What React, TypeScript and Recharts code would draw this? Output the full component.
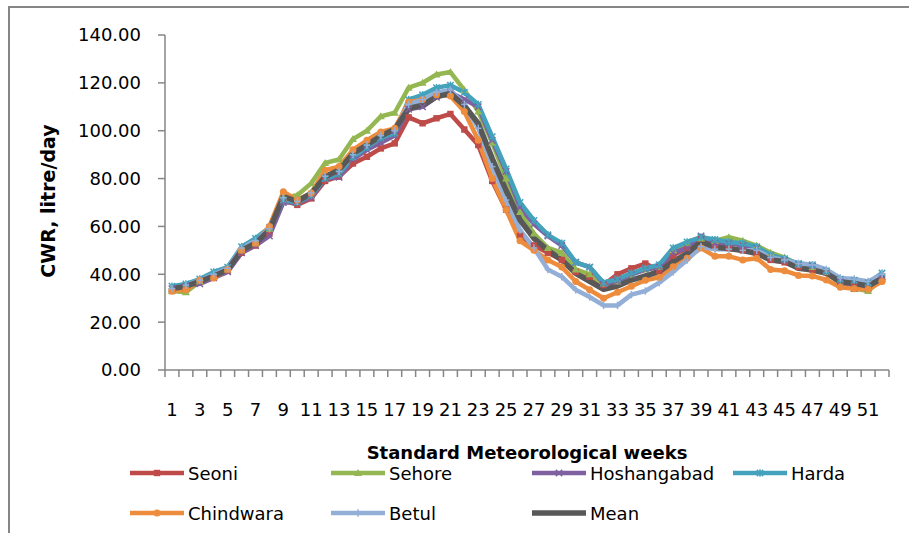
import React from 'react';
import { LineChart, Line, XAxis, YAxis } from 'recharts';

// Standard meteorological weeks
const weeks = [
  1, 2, 3, 4, 5, 6, 7, 8, 9, 10, 11, 12, 13, 14, 15, 16, 17, 18, 19, 20, 21, 22, 23, 24, 25, 26,
  27, 28, 29, 30, 31, 32, 33, 34, 35, 36, 37, 38, 39, 40, 41, 42, 43, 44, 45, 46, 47, 48, 49, 50, 51, 52,
];

// Crop water requirement, litre/day
const seoni = [
  33, 34, 37, 38.5, 41.5, 49, 52, 57, 71, 69, 71.7, 79, 80.8, 86.3, 89.1, 92.6, 94.7, 105.6, 103.1, 105.2, 107, 100.5, 94, 79, 67, 56,
  52, 49, 46, 41, 39, 35.5, 40, 42.5, 44.5, 41.5, 48, 51, 55, 52, 51, 50, 49, 46, 45, 43, 42, 41, 36, 35, 34.5, 38,
];
const sehore = [
  33, 32.5, 37, 39, 42, 50, 53, 59, 72, 73, 78, 86.5, 88, 96.5, 100, 106, 107.5, 118, 120, 123.5, 124.5, 117, 108, 95, 80, 66,
  57, 51, 49, 42, 40, 36, 37, 40, 42, 43, 50, 53, 55, 54, 55.5, 54, 52, 49, 47, 44, 43, 41, 36, 34, 33, 38,
];
const hoshangabad = [
  34, 35, 36, 38.5, 41, 49, 52, 56, 70, 70, 72, 80, 80.5, 88, 92, 95, 98, 109, 110, 114, 116, 113, 110, 96, 83, 68,
  61, 56, 52, 45, 43, 36, 37, 40, 42, 43, 49, 51, 56, 53, 53, 52, 51, 48, 46, 44, 43.5, 41, 37, 34, 34, 39,
];
const harda = [
  35, 36, 38, 41, 43, 51.5, 55, 59.5, 71, 70, 73, 80, 82, 89, 93, 97, 99, 113, 115, 118, 119, 116, 111, 97.5, 84, 70,
  62.5, 56.5, 53, 45, 43, 36.5, 38, 40.5, 42.5, 44, 51, 53.5, 55.5, 54.5, 53.5, 53, 51.5, 48, 46.5, 44.5, 44, 41.5, 38, 37.5, 36.5, 40.5,
];
const chindwara = [
  33, 33.5, 37.5, 38.5, 42, 50, 53, 60, 74.5, 71, 74, 83.5, 85, 92, 96, 99.5, 101, 112, 113, 115, 114.5, 108, 96, 80, 67, 54,
  50, 46, 43, 37, 33.5, 30, 32.5, 35, 37.5, 38.7, 43.2, 46.7, 51, 47.5, 47.5, 46, 46.7, 42, 41.5, 39.5, 39.3, 37.6, 34.6, 34, 33.7, 37,
];
const betul = [
  34, 35.5, 37.5, 40, 42.5, 51, 54, 59, 72, 70.5, 74, 81, 83, 90, 94, 98, 100, 111, 113, 116, 117, 111, 101, 85, 71, 58.5,
  51, 42, 39, 33.5, 30.5, 27, 27, 31.5, 33, 36.5, 41, 46, 51.5, 50.5, 50.5, 50, 50, 47, 46, 44.5, 44, 42, 38.5, 38, 37, 40,
];
const mean = [
  34, 35, 37, 39.3, 41.8, 50, 53, 58.5, 72.5, 70.5, 73.8, 80.8, 83.6, 90.5, 94, 97.8, 100.6, 109.3, 110.7, 114.2, 115.6, 110.5, 103, 88.5, 75, 62.7,
  55, 50, 46, 40.4, 37, 33.7, 35.1, 37.6, 39.3, 41.1, 45.3, 48.7, 53.6, 51.3, 50.8, 49.9, 48.7, 46, 45.3, 42.5, 41.8, 40.4, 36.9, 36.2, 35.1, 38.3,
];

const yTicks = [0, 20, 40, 60, 80, 100, 120, 140];

type MarkerShape = 'square' | 'triangle' | 'cross' | 'star' | 'circle' | 'plus' | 'none';

interface SeriesDef {
  name: string;
  values: number[];
  color: string;
  marker: MarkerShape;
  width: number;
}

const series: SeriesDef[] = [
  { name: 'Seoni', values: seoni, color: '#BE4B48', marker: 'square', width: 4.5 },
  { name: 'Sehore', values: sehore, color: '#94B752', marker: 'triangle', width: 4.5 },
  { name: 'Hoshangabad', values: hoshangabad, color: '#7F60A0', marker: 'cross', width: 4.5 },
  { name: 'Harda', values: harda, color: '#44A2BC', marker: 'star', width: 4.5 },
  { name: 'Chindwara', values: chindwara, color: '#EE8C3E', marker: 'circle', width: 4.5 },
  { name: 'Betul', values: betul, color: '#93AFD7', marker: 'plus', width: 4.5 },
  { name: 'Mean', values: mean, color: '#585858', marker: 'none', width: 5.5 },
];

const rows = weeks.map((w, i) => {
  const row: Record<string, number> = { week: w };
  series.forEach((s) => {
    row[s.name] = s.values[i];
  });
  return row;
});

// Layout
const W = 909;
const H = 533;
const PLOT_LEFT = 165;
const PLOT_RIGHT = 889;
const PLOT_TOP = 35;
const PLOT_BOTTOM = 370;
const X_AXIS_H = 40;
const STEP = (PLOT_RIGHT - PLOT_LEFT) / weeks.length;
const AXIS = '#868686';
const FONT = '"DejaVu Sans", sans-serif';

const Marker = ({ shape, cx, cy, color }: { shape: MarkerShape; cx: number; cy: number; color: string }) => {
  if (cx == null || cy == null) return null;
  const r = 3.2;
  switch (shape) {
    case 'square':
      return <rect x={cx - r} y={cy - r} width={2 * r} height={2 * r} fill={color} />;
    case 'triangle':
      return <polygon points={`${cx},${cy - 4} ${cx + 4},${cy + 3} ${cx - 4},${cy + 3}`} fill={color} />;
    case 'circle':
      return <circle cx={cx} cy={cy} r={r + 0.3} fill={color} />;
    case 'cross':
      return (
        <g stroke={color} strokeWidth={1.5}>
          <line x1={cx - r} y1={cy - r} x2={cx + r} y2={cy + r} />
          <line x1={cx - r} y1={cy + r} x2={cx + r} y2={cy - r} />
        </g>
      );
    case 'star':
      return (
        <g stroke={color} strokeWidth={1.5}>
          <line x1={cx - r} y1={cy - r} x2={cx + r} y2={cy + r} />
          <line x1={cx - r} y1={cy + r} x2={cx + r} y2={cy - r} />
          <line x1={cx} y1={cy - r - 0.5} x2={cx} y2={cy + r + 0.5} />
        </g>
      );
    case 'plus':
      return (
        <g stroke={color} strokeWidth={1.5}>
          <line x1={cx - r} y1={cy} x2={cx + r} y2={cy} />
          <line x1={cx} y1={cy - r - 0.5} x2={cx} y2={cy + r + 0.5} />
        </g>
      );
    default:
      return null;
  }
};

// Category ticks sit on the boundaries between weeks; labels on every other week
const WeekTick = (props: any) => {
  const { x, payload, index } = props;
  const w = payload.value as number;
  const last = index === weeks.length - 1;
  return (
    <g>
      <line x1={x - STEP / 2} x2={x - STEP / 2} y1={PLOT_BOTTOM} y2={PLOT_BOTTOM + 7} stroke={AXIS} strokeWidth={1.5} />
      {last && (
        <line x1={x + STEP / 2} x2={x + STEP / 2} y1={PLOT_BOTTOM} y2={PLOT_BOTTOM + 7} stroke={AXIS} strokeWidth={1.5} />
      )}
      {w % 2 === 1 && (
        <text x={x} y={409} textAnchor="middle" dominantBaseline="central" fontSize={18} fontFamily={FONT} fill="#000">
          {w}
        </text>
      )}
    </g>
  );
};

const legendCols = [130, 331, 532, 733];
const legendRows = [473, 513];

export default function App() {
  return (
    <div
      style={{
        position: 'absolute',
        left: 0,
        top: 0,
        width: W,
        height: H,
        overflow: 'hidden',
        background: '#fff',
        fontFamily: FONT,
      }}
    >
      <div
        style={{
          position: 'absolute',
          left: 8,
          top: 6,
          width: W + 20,
          height: H + 20,
          borderTop: `2px solid ${AXIS}`,
          borderLeft: `2px solid ${AXIS}`,
          boxSizing: 'border-box',
        }}
      />
      <div style={{ position: 'absolute', left: 0, top: 0 }}>
        <LineChart
          width={W}
          height={H}
          data={rows}
          margin={{ top: PLOT_TOP, right: W - PLOT_RIGHT, bottom: H - PLOT_BOTTOM - X_AXIS_H, left: 0 }}
        >
          <XAxis
            dataKey="week"
            type="category"
            interval={0}
            height={X_AXIS_H}
            padding={{ left: STEP / 2, right: STEP / 2 }}
            axisLine={{ stroke: AXIS, strokeWidth: 1.5 }}
            tickLine={false}
            tick={<WeekTick />}
          />
          <YAxis
            width={PLOT_LEFT}
            domain={[0, 140]}
            ticks={yTicks}
            interval={0}
            tickFormatter={(v: number) => v.toFixed(2)}
            axisLine={{ stroke: AXIS, strokeWidth: 1.5 }}
            tickLine={{ stroke: AXIS, strokeWidth: 1.5 }}
            tickSize={7}
            tickMargin={17}
            tick={{ fontSize: 18, fill: '#000', fontFamily: FONT }}
          />
          {series.map((s) => (
            <Line
              key={s.name}
              dataKey={s.name}
              type="linear"
              stroke={s.color}
              strokeWidth={s.width}
              strokeLinejoin="round"
              isAnimationActive={false}
              dot={
                s.marker === 'none'
                  ? false
                  : (p: any) => (
                      <Marker key={`${s.name}-${p.index}`} shape={s.marker} cx={p.cx} cy={p.cy} color={s.color} />
                    )
              }
              activeDot={false}
            />
          ))}
        </LineChart>
      </div>
      <svg width={W} height={H} style={{ position: 'absolute', left: 0, top: 0, pointerEvents: 'none' }}>
        <text
          transform={`translate(48, 201) rotate(-90)`}
          textAnchor="middle"
          dominantBaseline="central"
          fontSize={19}
          fontWeight="bold"
          fontFamily={FONT}
          fill="#000"
        >
          CWR, litre/day
        </text>
        <text x={527} y={452} textAnchor="middle" dominantBaseline="central" fontSize={18} fontWeight="bold" fontFamily={FONT} fill="#000">
          Standard Meteorological weeks
        </text>
        {series.map((s, i) => {
          const x = legendCols[i % 4];
          const y = legendRows[Math.floor(i / 4)];
          return (
            <g key={s.name}>
              <line x1={x} x2={x + 54} y1={y} y2={y} stroke={s.color} strokeWidth={s.width} />
              <Marker shape={s.marker} cx={x + 27} cy={y} color={s.color} />
              <text x={x + 58} y={y} dominantBaseline="central" fontSize={18} fontFamily={FONT} fill="#000">
                {s.name}
              </text>
            </g>
          );
        })}
      </svg>
    </div>
  );
}
